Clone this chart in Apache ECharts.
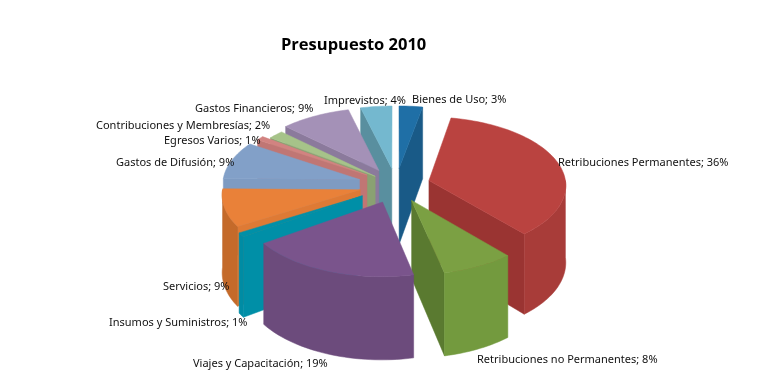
<!DOCTYPE html>
<html><head><meta charset="utf-8">
<style>html,body{margin:0;padding:0;background:#fff}#c{width:766px;height:392px}</style>
<script src="https://cdn.jsdelivr.net/npm/echarts@6/dist/echarts.min.js"></script>
</head><body><div id="c"></div>
<script>
const categories = ['Bienes de Uso','Retribuciones Permanentes','Retribuciones no Permanentes','Viajes y Capacitación','Insumos y Suministros','Servicios','Gastos de Difusión','Egresos Varios','Contribuciones y Membresías','Gastos Financieros','Imprevistos'];
const values = [3,36,8,19,1,9,9,1,2,9,4];
const explode = [0.25,0.25,0.25,0.265,0.29,0.27,0.28,0.26,0.2,0.25,0.25];
const topColors  = ['#1F6FA6','#BA4340','#7BA043','#7A548C','#0090A8','#E98139','#82A0C8','#D28381','#A6C389','#A491B7','#74B8CF'];
const wallColors = ['#1A5F90','#A83C39','#739A3E','#6C4B7C','#008CA4','#C46A2A','#7089AD','#B47070','#8FA876','#8D7C9E','#6499B0'];
const cutColors  = ['#195A87','#9A3432','#5A7A30','#5E4069','#008FA7','#DE7A35','#7E9BC2','#C07674','#8AA172','#8B7A9C','#598F9F'];
const drawOrder = [0,10,9,8,7,6,1,5,4,2,3];
const labelAnchors = [[412,100],[558,163],[477,360],[193,364],[109,323],[163,287],[116,163],[164,141],[96,126],[195,109],[324,101]];
const CX=396, CY=185, RX=137, RY=68, DEPTH=77, PERSP=0.06;

const total = values.reduce((a,b)=>a+b,0);
const cum = []; values.reduce((a,v,i)=>{cum[i]=[a/total*2*Math.PI,(a+v)/total*2*Math.PI];return a+v;},0);
function pt(i,th,r,z){
  const m=(cum[i][0]+cum[i][1])/2;
  const x=r*Math.sin(th)+explode[i]*Math.sin(m), y=r*Math.cos(th)+explode[i]*Math.cos(m);
  const s=1/(1+PERSP*y);
  return [CX+RX*x*s, CY-RY*y*s+z*DEPTH*s];
}
function arc(i,a,b,z){const n=Math.max(2,Math.ceil((b-a)/0.03)),p=[];for(let k=0;k<=n;k++)p.push(pt(i,a+(b-a)*k/n,1,z));return p;}
function poly(points,fill){return {type:'polygon',shape:{points},style:{fill,stroke:fill,lineWidth:0.5}};}
function sliceChildren(i){
  const [a,b]=cum[i], ch=[], apexT=pt(i,0,0,0), apexB=pt(i,0,0,1);
  if(Math.sin(a)<-1e-6) ch.push(poly([apexT,pt(i,a,1,0),pt(i,a,1,1),apexB],cutColors[i]));
  if(Math.sin(b)>1e-6) ch.push(poly([apexT,pt(i,b,1,0),pt(i,b,1,1),apexB],cutColors[i]));
  const wa=Math.max(a,Math.PI/2), wb=Math.min(b,Math.PI*1.5);
  if(wb>wa) ch.push(poly(arc(i,wa,wb,0).concat(arc(i,wa,wb,1).reverse()),wallColors[i]));
  ch.push(poly([apexT].concat(arc(i,a,b,0)),topColors[i]));
  return ch;
}
const chart=echarts.init(document.getElementById('c'),null,{renderer:'canvas'});
chart.setOption({
  animation:false, backgroundColor:'#fff',
  title:{text:'Presupuesto 2010',left:281,top:37,padding:0,textStyle:{fontFamily:'Open Sans',fontSize:16.5,fontWeight:'bold',color:'#000'}},
  series:[
   {type:'custom',coordinateSystem:'none',silent:true,data:drawOrder,z:2,
    renderItem:(p,api)=>({type:'group',children:sliceChildren(drawOrder[p.dataIndex])})},
   {type:'custom',coordinateSystem:'none',silent:true,data:categories,z:3,
    renderItem:(p)=>({type:'text',x:labelAnchors[p.dataIndex][0],y:labelAnchors[p.dataIndex][1],
      style:{text:categories[p.dataIndex]+'; '+values[p.dataIndex]+'%',fontFamily:'Noto Sans',fontSize:11,fill:'#111',verticalAlign:'middle'}})}
  ]
});
</script></body></html>
